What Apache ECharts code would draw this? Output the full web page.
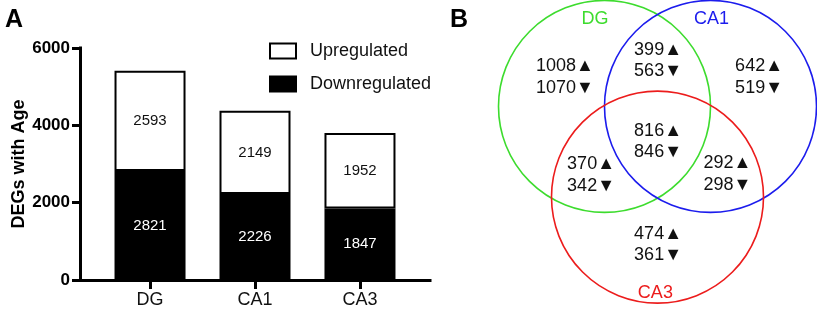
<!DOCTYPE html>
<html>
<head>
<meta charset="utf-8">
<script src="https://cdn.jsdelivr.net/npm/echarts@6/dist/echarts.min.js"></script>
<style>
  html, body { margin: 0; padding: 0; background: #fff; }
  #chart { width: 817px; height: 312px; }
</style>
</head>
<body>
<div id="chart"></div>
<script>
// panel A: stacked bars
const categories = ['DG', 'CA1', 'CA3']
const downregulated = [2821, 2226, 1847]
const upregulated = [2593, 2149, 1952]

// panel B: venn, circles in radius units
const vennSets = ['DG', 'CA1', 'CA3']
const vennCenters = [[-0.5, 0], [0.5, 0], [0, -0.86]]
const vennRadius = 1
const vennSetLabelPos = [[-0.59, 0.83], [0.51, 0.83], [-0.02, -1.77]]
const regionUp = [1008, 399, 642, 816, 370, 292, 474]
const regionDown = [1070, 563, 519, 846, 342, 298, 361]
const regionPos = [[-0.873, 0.278], [0.005, 0.434], [0.958, 0.278], [0.005, -0.335], [-0.627, -0.651], [0.66, -0.642], [0.005, -1.311]]

const FONT = '"Liberation Sans", Arial, Helvetica, sans-serif'
const SET_COLORS = ['#3ddc2e', '#1c1ced', '#ec1c1c']

const chart = echarts.init(document.getElementById('chart'), null, { renderer: 'canvas' })

const idx = categories.map((_, i) => i)

// value first, category index second, so stacking happens on the value
const barSeries = (name, values, fill, textColor) => ({
  name,
  type: 'bar',
  stack: 'deg',
  xAxisIndex: 0,
  yAxisIndex: 0,
  barWidth: 71,
  encode: { x: 1, y: 0 },
  data: idx.map((i) => [values[i], i]),
  itemStyle: { color: fill, borderColor: '#000', borderWidth: 2 },
  label: { show: true, position: 'inside', color: textColor, fontFamily: FONT, fontSize: 15, formatter: (p) => p.value[0] },
})

chart.setOption({
  backgroundColor: '#fff',
  animation: false,
  textStyle: { fontFamily: FONT },
  title: [
    { text: 'A', left: 0, top: 3, textStyle: { fontFamily: FONT, fontSize: 25, fontWeight: 'bold', color: '#000' } },
    { text: 'B', left: 445, top: 3, textStyle: { fontFamily: FONT, fontSize: 25, fontWeight: 'bold', color: '#000' } },
  ],
  legend: {
    orient: 'vertical',
    left: 264,
    top: 37,
    itemWidth: 26,
    itemHeight: 15,
    itemGap: 15,
    selectedMode: false,
    textStyle: { fontFamily: FONT, fontSize: 18, color: '#111', padding: [0, 0, 0, 9], lineHeight: 18 },
    data: [
      { name: 'Upregulated', icon: 'rect', itemStyle: { color: '#fff', borderColor: '#000', borderWidth: 2 } },
      { name: 'Downregulated', icon: 'rect', itemStyle: { color: '#000', borderColor: '#000', borderWidth: 2 } },
    ],
  },
  grid: [
    { left: 80, right: 387, top: 48, bottom: 32 },
    { left: 498.5, width: 318, top: 1, height: 312.7 },
  ],
  xAxis: [
    {
      type: 'value',
      gridIndex: 0,
      min: -0.667,
      max: 2.667,
      splitLine: { show: false },
      axisLine: { show: true, onZero: false, lineStyle: { color: '#000', width: 3, cap: 'square' } },
      axisTick: { show: true, customValues: idx, length: 9, lineStyle: { color: '#000', width: 3 } },
      axisLabel: {
        customValues: idx,
        formatter: (v) => categories[Math.round(v)],
        margin: 11,
        fontFamily: FONT,
        fontSize: 18,
        color: '#111',
      },
    },
    { type: 'value', gridIndex: 1, min: -1.5, max: 1.5, show: false },
  ],
  yAxis: [
    {
      type: 'value',
      gridIndex: 0,
      min: 0,
      max: 6000,
      interval: 2000,
      name: 'DEGs with Age',
      nameLocation: 'middle',
      nameGap: 4,
      nameTextStyle: { fontFamily: FONT, fontSize: 18, fontWeight: 'bold', color: '#000', lineHeight: 8 },
      splitLine: { show: false },
      axisLine: { show: true, onZero: false, lineStyle: { color: '#000', width: 3, cap: 'square' } },
      axisTick: { show: true, length: 8, lineStyle: { color: '#000', width: 3 } },
      axisLabel: { margin: 10, fontFamily: FONT, fontSize: 17, fontWeight: 'bold', color: '#000', formatter: (v) => String(v) },
    },
    { type: 'value', gridIndex: 1, min: -1.95, max: 1.0, show: false },
  ],
  series: [
    barSeries('Downregulated', downregulated, '#000', '#fff'),
    barSeries('Upregulated', upregulated, '#fff', '#111'),
    {
      type: 'custom',
      xAxisIndex: 1,
      yAxisIndex: 1,
      silent: true,
      data: vennCenters.map((c, i) => [c[0], c[1], vennRadius, i]),
      renderItem: (params, api) => {
        const c = api.coord([api.value(0), api.value(1)])
        const r = api.size([api.value(2), 0])[0]
        const i = api.value(3)
        return {
          type: 'circle',
          shape: { cx: c[0], cy: c[1], r },
          style: { fill: 'none', stroke: SET_COLORS[i], lineWidth: 1.6 },
        }
      },
    },
    {
      type: 'custom',
      xAxisIndex: 1,
      yAxisIndex: 1,
      silent: true,
      data: vennSetLabelPos.map((p, i) => [p[0], p[1], i]),
      renderItem: (params, api) => {
        const c = api.coord([api.value(0), api.value(1)])
        const i = api.value(2)
        return {
          type: 'text',
          x: c[0],
          y: c[1],
          style: { text: vennSets[i], fill: SET_COLORS[i], font: '18px ' + FONT, align: 'center', verticalAlign: 'middle' },
        }
      },
    },
    {
      type: 'custom',
      xAxisIndex: 1,
      yAxisIndex: 1,
      silent: true,
      data: regionPos.map((p, i) => [p[0], p[1], i]),
      renderItem: (params, api) => {
        const c = api.coord([api.value(0), api.value(1)])
        const i = api.value(2)
        return {
          type: 'text',
          x: c[0],
          y: c[1],
          style: {
            text: regionUp[i] + '\u25B2\n' + regionDown[i] + '\u25BC',
            fill: '#111',
            font: '18px ' + FONT,
            lineHeight: 21.5,
            align: 'center',
            verticalAlign: 'middle',
          },
        }
      },
    },
  ],
})
</script>
</body>
</html>
